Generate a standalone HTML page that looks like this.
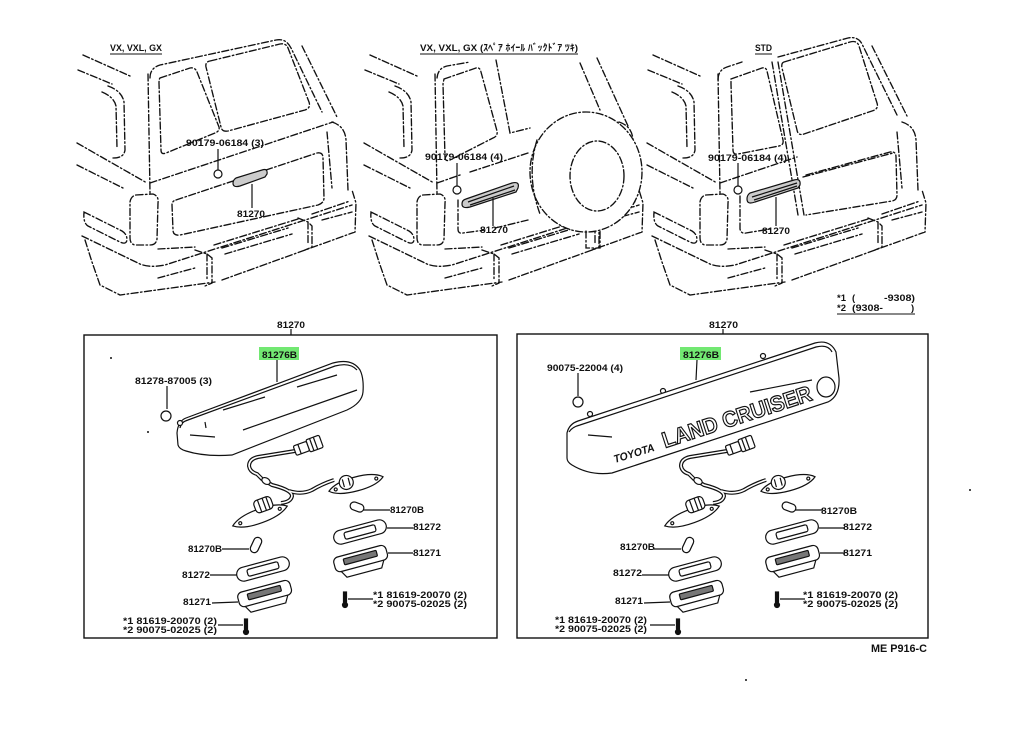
<!DOCTYPE html>
<html><head><meta charset="utf-8">
<style>
html,body{margin:0;padding:0;background:#fff;}
svg{display:block;}
text{font-family:"Liberation Sans","Noto Sans CJK JP",sans-serif;font-size:9.5px;font-weight:bold;fill:#111;}
</style></head><body>
<svg width="1024" height="734" viewBox="0 0 1024 734" xmlns="http://www.w3.org/2000/svg">
<rect width="1024" height="734" fill="#fff"/>
<defs>
<g id="car" fill="none" stroke="#111" stroke-width="1.35" stroke-dasharray="7 2.5 1.5 2.5" stroke-linecap="round">
  <path d="M83,55 L130,76"/>
  <path d="M78,70 L112,84"/>
  <path d="M108,86 Q122,91 124,102 L125,150 Q124,158 113,158"/>
  <path d="M102,92 Q114,97 116,106 L117,148"/>
  <path d="M77,143 L147,183"/>
  <path d="M77,165 L123,188"/>
  <path d="M84,212 L122,231 Q127,234 127,240 Q126,245 120,242 L88,226 Q83,223 84,212Z"/>
  <path d="M148,74 L150,193"/>
  <path d="M136,195 L153,194 Q159,196 158,203 L157,239 Q156,245 150,245 L135,245 Q130,244 130,238 L130,202 Q131,196 136,195Z"/>
  <path d="M82,236 L140,264 Q150,268 165,265 L352,205"/>
  <path d="M158,249 L195,247 M214,245 L298,219 M312,214 L350,201"/>
  <path d="M85,240 L92,262 L100,285 L120,295 L215,282 M222,280 L355,232 L356,203 L352,190"/>
  <path d="M195,250 L207,254 L212,258 L212,283 L205,286 M207,254 L207,280"/>
  <path d="M298,218 L308,222 L312,226 L312,247 L305,250 M308,222 L308,245"/>
  <path d="M222,248 L288,228 M225,254 L292,234 M158,278 L195,268 M322,220 L352,212"/>
  <path d="M332,122 Q345,126 346,140 L348,190"/>
  <path d="M327,132 L332,188"/>
</g>
<g id="parts" fill="none" stroke="#111" stroke-width="1.2">
  <path d="M295,451 L258,457 Q249,459 249,466 Q250,472 257,474 L262,479 L272,485 Q292,490 292,496 Q291,502 281,503" stroke-width="4"/>
  <path d="M289,491 Q302,495 312,490 Q322,484 334,480" stroke-width="4"/>
  <path d="M295,451 L258,457 Q249,459 249,466 Q250,472 257,474 L262,479 L272,485 Q292,490 292,496 Q291,502 281,503" stroke="#fff" stroke-width="1.6"/>
  <path d="M289,491 Q302,495 312,490 Q322,484 334,480" stroke="#fff" stroke-width="1.6"/>
  <g transform="translate(308,446) rotate(-20)" fill="#fff">
    <rect x="-14" y="-5" width="14" height="10" rx="1.5"/>
    <rect x="0" y="-6.5" width="14" height="13" rx="1.5"/>
    <path d="M4,-6 L4,6 M8,-6 L8,6 M-9,-5 L-9,5"/>
  </g>
  <ellipse cx="266" cy="481" rx="4.5" ry="3" transform="rotate(30 266 481)" fill="#fff"/>
  <g transform="translate(356,484) rotate(-15)" fill="#fff">
    <path d="M-28,0 Q-20,-7 0,-7 Q20,-7 28,0 Q20,7 0,7 Q-20,7 -28,0Z"/>
    <circle cx="-21" cy="0" r="1.5"/><circle cx="21" cy="0" r="1.5"/>
    <circle cx="-9" cy="-4" r="7"/><path d="M-12,-8 L-12,0 M-6,-8 L-6,0"/>
  </g>
  <g transform="translate(260,516) rotate(-20)" fill="#fff">
    <path d="M-29,0 Q-20,-7 0,-7 Q20,-7 29,0 Q20,7 0,7 Q-20,7 -29,0Z"/>
    <circle cx="-21" cy="0" r="1.5"/><circle cx="21" cy="0" r="1.5"/>
    <rect x="-2" y="-16" width="18" height="13" rx="4"/><path d="M3,-16 L3,-3 M8,-16 L8,-3 M12,-16 L12,-3"/>
  </g>
  <rect x="-7" y="-4" width="14" height="8" rx="4" transform="translate(357,507) rotate(20)"/>
  <rect x="-8" y="-4" width="16" height="8" rx="4" transform="translate(256,545) rotate(-65)"/>
  <g transform="translate(360,532) rotate(-15)">
    <rect x="-27" y="-7" width="54" height="14" rx="7"/>
    <rect x="-16" y="-3.5" width="32" height="7" rx="2"/>
  </g>
  <g transform="translate(361,560) rotate(-15)">
    <rect x="-27" y="-9" width="54" height="15" rx="5" fill="#fff"/>
    <rect x="-17" y="-5.5" width="34" height="6" rx="1" fill="#777"/>
    <path d="M-22,6 L-18,13 L18,13 L22,6"/>
  </g>
  <g transform="translate(263,569) rotate(-15)">
    <rect x="-27" y="-7" width="54" height="14" rx="7"/>
    <rect x="-16" y="-3.5" width="32" height="7" rx="2"/>
  </g>
  <g transform="translate(265,595) rotate(-15)">
    <rect x="-27" y="-9" width="54" height="15" rx="5" fill="#fff"/>
    <rect x="-17" y="-5.5" width="34" height="6" rx="1" fill="#777"/>
    <path d="M-22,6 L-18,13 L18,13 L22,6"/>
  </g>
  <g fill="#111">
    <rect x="343.5" y="592" width="3" height="10"/><circle cx="345" cy="605" r="2.5"/>
    <rect x="244.5" y="619" width="3" height="10"/><circle cx="246" cy="632" r="2.5"/>
  </g>
  <path d="M363,510 L390,510 M387,528 L413,528 M388,553 L413,553 M222,549 L249,549 M210,575 L237,575 M212,603 L238,602 M348,599 L373,599 M218,625 L243,625"/>
</g>
</defs>

<!-- top car views -->
<use href="#car"/>
<use href="#car" x="287"/>
<use href="#car" x="570"/>

<g fill="none" stroke="#111" stroke-width="1.35" stroke-dasharray="7 2.5 1.5 2.5" stroke-linecap="round">
  <!-- panel 1 -->
  <path d="M150,78 Q150,68 160,65 L276,40 Q286,38 291,48 L322,112"/>
  <path d="M302,46 L337,117"/>
  <path d="M150,183 L333,122"/>
  <path d="M160,78 L190,68 Q195,67 197,72 L219,127 Q220,131 215,133 L166,153 Q161,155 161,150 L159,83 Q159,79 160,78Z"/>
  <path d="M210,61 L280,44 Q286,43 288,48 L309,102 Q311,108 305,110 L228,131 Q222,132 221,127 L206,67 Q205,62 210,61Z"/>
  <path d="M176,200 L317,153 Q323,152 323,158 L324,198 Q324,203 318,205 L180,235 Q173,236 173,230 L172,205 Q172,201 176,200Z"/>
  <!-- panel 2 -->
  <path d="M437,78 Q438,68 447,66 L470,62"/>
  <path d="M444,79 L476,68 Q480,67 481,72 L497,131 Q498,136 493,138 L450,160 Q445,162 445,157 L443,84 Z"/>
  <path d="M496,60 L510,133 L530,128"/>
  <path d="M580,63 L600,110 M597,58 L628,126"/>
  <path d="M437,183 L460,175 M470,172 L528,153"/>
  <path d="M458,200 L458,229 Q458,234 463,233 L485,230 M495,228 L528,220"/>
  <ellipse cx="586" cy="172" rx="56" ry="60" fill="#fff"/>
  <ellipse cx="597" cy="176" rx="27" ry="35"/>
  <path d="M537,140 Q526,176 540,214"/>
  <path d="M586,231 L586,248 L600,248 L600,231"/>
  <!-- panel 3 -->
  <path d="M718,80 Q718,70 727,67 L742,62"/>
  <path d="M778,57 L848,38 Q858,36 862,44 L897,115 M872,46 L907,116"/>
  <path d="M731,79 L762,68 Q766,67 767,71 L783,140 Q784,145 779,146 L738,154 Q733,155 733,150 L731,84 Z"/>
  <path d="M772,62 L798,215 M778,62 L804,215"/>
  <path d="M784,62 L850,42 Q857,40 859,46 L877,103 Q879,109 872,111 L804,134 Q798,136 797,130 L782,68 Q781,63 784,62Z"/>
  <path d="M720,183 L797,157 M803,177 L893,153"/>
  <path d="M740,196 L740,229 Q741,234 746,233 L770,229 M806,175 L890,152 Q896,151 896,157 L897,195 Q897,200 892,201 L806,215"/>
</g>

<!-- lamps, screws, leaders top -->
<g stroke="#111" stroke-width="1.2" fill="#ccc">
  <path d="M236,178 L262,170 Q268,168 267,174 L265,177 L240,186 Q233,188 233,183 Q233,180 236,178Z"/>
  <path d="M466,199 L512,183 Q520,181 518,188 L516,192 L470,207 Q462,209 462,204 Q462,200 466,199Z"/>
  <path d="M750,193 L794,180 Q801,178 800,185 L798,188 L755,202 Q747,205 747,199 Q747,195 750,193Z"/>
  <path d="M468,202 L514,186 M470,205 L515,190 M752,197 L797,183 M754,200 L797,186" fill="none"/>
</g>
<g fill="#fff" stroke="#111" stroke-width="1.2">
  <circle cx="218" cy="174" r="4"/><circle cx="457" cy="190" r="4"/><circle cx="738" cy="190" r="4"/>
</g>
<path d="M218,149 L218,170 M252,184 L252,208 M457,163 L457,186 M493,198 L493,226 M738,163 L738,186 M776,197 L776,226" stroke="#111" stroke-width="1.2" fill="none"/>

<!-- titles -->
<text x="110" y="51" textLength="52" lengthAdjust="spacingAndGlyphs">VX, VXL, GX</text>
<path d="M110,54 L162,54 M420,54 L578,54 M755,54 L772,54" stroke="#111" stroke-width="1"/>
<text x="420" y="51" textLength="158" lengthAdjust="spacingAndGlyphs">VX, VXL, GX (ｽﾍﾟｱ ﾎｲｰﾙ ﾊﾞｯｸﾄﾞｱ ﾂｷ)</text>
<text x="755" y="51" textLength="17" lengthAdjust="spacingAndGlyphs">STD</text>

<text x="186" y="146" textLength="78" lengthAdjust="spacingAndGlyphs">90179-06184 (3)</text>
<text x="237" y="217" textLength="28" lengthAdjust="spacingAndGlyphs">81270</text>
<text x="425" y="160" textLength="78" lengthAdjust="spacingAndGlyphs">90179-06184 (4)</text>
<text x="480" y="233" textLength="28" lengthAdjust="spacingAndGlyphs">81270</text>
<text x="708" y="161" textLength="79" lengthAdjust="spacingAndGlyphs">90179-06184 (4)</text>
<text x="762" y="234" textLength="28" lengthAdjust="spacingAndGlyphs">81270</text>

<text x="837" y="301">*1</text><text x="852" y="301">(</text><text x="884" y="301" textLength="31" lengthAdjust="spacingAndGlyphs">-9308)</text>
<text x="837" y="311">*2</text><text x="852" y="311" textLength="31" lengthAdjust="spacingAndGlyphs">(9308-</text><text x="911" y="311">)</text>
<path d="M837,314 L915,314" stroke="#111" stroke-width="1"/>

<!-- boxes -->
<rect x="84" y="335" width="413" height="303" fill="none" stroke="#111" stroke-width="1.4"/>
<rect x="517" y="334" width="411" height="304" fill="none" stroke="#111" stroke-width="1.4"/>
<path d="M291,329 L291,335 M723,329 L723,334" stroke="#111" stroke-width="1.2"/>
<text x="277" y="328" textLength="28" lengthAdjust="spacingAndGlyphs">81270</text>
<text x="709" y="328" textLength="29" lengthAdjust="spacingAndGlyphs">81270</text>

<!-- left box -->
<rect x="259" y="347" width="40" height="13" fill="#72e872"/>
<text x="262" y="358" textLength="35" lengthAdjust="spacingAndGlyphs">81276B</text>
<text x="135" y="384" textLength="77" lengthAdjust="spacingAndGlyphs">81278-87005 (3)</text>
<g fill="none" stroke="#111" stroke-width="1.2">
  <path d="M277,360 L277,382 M167,386 L167,409"/>
  <circle cx="166" cy="416" r="5"/>
  <path d="M178,445 L177,433 Q178,421 186,418 L333,363 Q352,358 360,370 Q364,378 363,392 Q362,403 347,410 L232,455 Q205,457 186,451 Q179,449 178,445Z" fill="#fff"/>
  <path d="M180,428 Q181,422 188,420 L335,366 Q350,362 357,370"/>
  <path d="M223,410 L265,397 M297,387 L337,375 M243,430 L357,390 M190,435 L215,437 M205,422 L206,428"/>
  <circle cx="180" cy="423" r="2.5" fill="#fff"/>
</g>
<use href="#parts"/>
<text x="390" y="513" textLength="34" lengthAdjust="spacingAndGlyphs">81270B</text>
<text x="413" y="530" textLength="28" lengthAdjust="spacingAndGlyphs">81272</text>
<text x="413" y="556" textLength="28" lengthAdjust="spacingAndGlyphs">81271</text>
<text x="188" y="552" textLength="34" lengthAdjust="spacingAndGlyphs">81270B</text>
<text x="182" y="578" textLength="28" lengthAdjust="spacingAndGlyphs">81272</text>
<text x="183" y="605" textLength="28" lengthAdjust="spacingAndGlyphs">81271</text>
<text x="373" y="598" textLength="94" lengthAdjust="spacingAndGlyphs">*1 81619-20070 (2)</text>
<text x="373" y="607" textLength="94" lengthAdjust="spacingAndGlyphs">*2 90075-02025 (2)</text>
<text x="123" y="624" textLength="94" lengthAdjust="spacingAndGlyphs">*1 81619-20070 (2)</text>
<text x="123" y="633" textLength="94" lengthAdjust="spacingAndGlyphs">*2 90075-02025 (2)</text>

<!-- right box -->
<rect x="680" y="347" width="41" height="13" fill="#72e872"/>
<text x="683" y="358" textLength="36" lengthAdjust="spacingAndGlyphs">81276B</text>
<text x="547" y="371" textLength="76" lengthAdjust="spacingAndGlyphs">90075-22004 (4)</text>
<g fill="none" stroke="#111" stroke-width="1.2">
  <path d="M697,360 L696,380 M578,373 L578,396"/>
  <circle cx="578" cy="402" r="5"/>
  <circle cx="590" cy="414" r="2.5" fill="#fff"/><circle cx="663" cy="391" r="2.5" fill="#fff"/><circle cx="763" cy="356" r="2.5" fill="#fff"/>
  <path d="M567,458 L567,433 Q569,424 578,421 L815,343 Q830,339 836,352 L839,378 Q840,396 828,402 L612,473 Q590,476 572,465 Q567,462 567,458Z" fill="#fff"/>
  <path d="M569,432 Q572,427 580,425 L816,347 Q828,344 832,352"/>
  <path d="M588,435 L612,437 M750,392 L812,380"/>
  <ellipse cx="826" cy="387" rx="9" ry="10"/>
</g>
<text x="0" y="0" transform="translate(615,463) rotate(-17)" textLength="42" lengthAdjust="spacingAndGlyphs" style="font-size:11px;font-style:italic;font-weight:bold">TOYOTA</text>
<text x="0" y="0" transform="translate(665,448) rotate(-18)" textLength="156" lengthAdjust="spacingAndGlyphs" style="font-size:22px;font-weight:bold;fill:#fff;stroke:#111;stroke-width:1.2">LAND CRUISER</text>
<use href="#parts" x="432"/>
<text x="821" y="514" textLength="36" lengthAdjust="spacingAndGlyphs">81270B</text>
<text x="843" y="530" textLength="29" lengthAdjust="spacingAndGlyphs">81272</text>
<text x="843" y="556" textLength="29" lengthAdjust="spacingAndGlyphs">81271</text>
<text x="620" y="550" textLength="35" lengthAdjust="spacingAndGlyphs">81270B</text>
<text x="613" y="576" textLength="29" lengthAdjust="spacingAndGlyphs">81272</text>
<text x="615" y="604" textLength="28" lengthAdjust="spacingAndGlyphs">81271</text>
<text x="803" y="598" textLength="95" lengthAdjust="spacingAndGlyphs">*1 81619-20070 (2)</text>
<text x="803" y="607" textLength="95" lengthAdjust="spacingAndGlyphs">*2 90075-02025 (2)</text>
<text x="555" y="623" textLength="92" lengthAdjust="spacingAndGlyphs">*1 81619-20070 (2)</text>
<text x="555" y="632" textLength="92" lengthAdjust="spacingAndGlyphs">*2 90075-02025 (2)</text>

<text x="871" y="652" textLength="56" lengthAdjust="spacingAndGlyphs" style="font-size:11px">ME P916-C</text>

<g fill="#111">
  <circle cx="111" cy="358" r="1"/><circle cx="148" cy="432" r="1"/>
  <circle cx="970" cy="490" r="1"/><circle cx="746" cy="680" r="1"/>
</g>
</svg>
</body></html>
